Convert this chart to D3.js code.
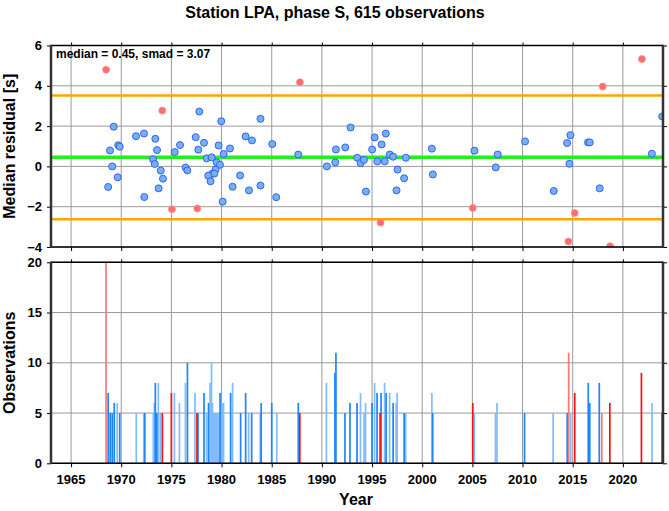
<!DOCTYPE html>
<html><head><meta charset="utf-8">
<script src="https://cdn.jsdelivr.net/npm/d3@7"></script>
<style>body{margin:0;background:#fff}svg{display:block}text{font-family:"Liberation Sans",Arial,Helvetica,sans-serif;font-weight:bold;fill:#000}</style>
</head><body><svg id="c" width="669" height="511"></svg>
<script>
// ---- data ----
const yearTicks = [1965,1970,1975,1980,1985,1990,1995,2000,2005,2010,2015,2020];
const residualTicks = [-4,-2,0,2,4,6];
const countTicks = [0,5,10,15,20];
const medianValue = 0.45, smadValue = 3.07;
const upperBand = 3.52, lowerBand = -2.62;

const blueYears = [1969.25,1968.88,1969.7,1969.85,1969.1,1969.65,1968.7,1971.47,1972.27,1972.3,1973.4,1973.57,1973.17,1973.34,1973.94,1974.16,1973.73,1975.33,1975.86,1976.42,1976.59,1977.42,1977.68,1977.78,1978.25,1978.52,1979.01,1979.51,1979.84,1979.71,1979.97,1980.21,1979.41,1979.07,1979.27,1978.67,1978.9,1980.11,1980.84,1981.1,1981.85,1982.4,1983.03,1982.73,1983.88,1983.88,1985.05,1985.45,1987.64,1990.5,1991.33,1991.4,1992.33,1992.86,1993.52,1993.86,1994.19,1994.39,1995.01,1995.26,1995.52,1995.95,1996.37,1996.27,1996.77,1997.1,1997.54,1997.44,1998.2,1998.37,2000.96,2001.06,2005.21,2007.53,2007.33,2010.25,2013.11,2014.44,2014.77,2014.67,2016.53,2016.7,2017.69,2022.89,2023.92];
const blueValues = [1.97,0.79,1.05,0.98,0.0,-0.54,-1.02,1.50,1.63,-1.52,1.37,0.81,0.35,0.12,-0.21,-0.61,-1.09,0.71,1.06,-0.06,-0.20,1.45,0.83,2.72,1.17,0.40,0.45,0.20,0.08,1.04,2.24,0.62,-0.16,-0.36,-0.36,-0.46,-0.74,-1.75,0.89,-1.01,-0.45,1.49,1.29,-1.19,2.36,-0.95,1.11,-1.53,0.59,0.0,0.20,0.84,0.94,1.93,0.43,0.17,0.32,-1.25,0.84,1.44,0.25,1.09,1.63,0.25,0.59,0.48,-0.16,-1.19,-0.59,0.43,0.88,-0.40,0.78,0.59,-0.05,1.24,-1.22,1.16,1.55,0.13,1.19,1.19,-1.09,0.63,2.48];
const redYears = [1968.49,1974.09,1975.06,1977.58,1987.81,1995.85,2005.04,2014.57,2015.2,2017.99,2018.72,2021.9];
const redValues = [4.80,2.77,-2.13,-2.09,4.18,-2.79,-2.06,-3.73,-2.31,3.96,-3.96,5.33];

const darkBlueBarYears = [1968.7,1968.9,1969.1,1969.3,1969.85,1972.35,1973.4,1973.55,1976.6,1977.65,1978.25,1978.7,1979.85,1980.9,1981.9,1982.4,1983.0,1983.95,1985.0,1987.65,1991.3,1991.4,1992.3,1992.8,1993.5,1995.0,1995.5,1995.9,1996.4,1997.1,1998.2,2001.05,2010.2,2014.45,2016.55,2016.7,2017.65,2023.9];
const darkBlueBarCounts = [7,5,5,6,5,5,8,5,10,5,7,6,7,7,5,7,5,6,6,6,9,11,5,6,6,6,7,7,7,6,5,5,5,5,8,6,8,5];
const lightBlueBarYears = [1969.6,1971.5,1972.25,1973.2,1973.3,1973.7,1973.9,1975.3,1975.8,1976.4,1977.35,1978.5,1978.85,1979.0,1979.1,1979.2,1979.3,1979.4,1979.5,1979.6,1979.7,1979.95,1980.1,1980.2,1981.1,1982.7,1983.85,1985.5,1990.45,1993.85,1994.2,1994.35,1995.25,1996.25,1996.75,1997.4,1997.5,1998.35,2000.96,2005.2,2007.3,2007.45,2013.05,2014.8,2022.9];
const lightBlueBarCounts = [6,5,5,5,6,8,5,7,6,8,7,5,8,10,6,5,5,5,5,5,5,6,6,6,8,5,5,5,8,7,5,6,8,8,7,6,7,5,7,5,5,6,5,5,6];
const redBarYears = [1974.1,1975.0,1977.55,1987.8,1995.8,2005.04,2015.2,2018.7,2021.85];
const redBarCounts = [5,7,5,5,5,6,7,6,9];
const lightRedBarYears = [1968.49,2014.6,2017.9];
const lightRedBarCounts = [20,11,5];

// ---- layout ----
const svg = d3.select("#c");
const L = 51, R = 663;
const x = d3.scaleLinear().domain([1963, 2024]).range([L, R]);
const yTop = d3.scaleLinear().domain([-4, 6]).range([247, 45.5]);
const yBot = d3.scaleLinear().domain([0, 20]).range([463.3, 262.3]);

svg.append("text").attr("x", 335).attr("y", 18).attr("text-anchor","middle")
  .style("font-size","16px").text("Station LPA, phase S, 615 observations");

function panel(y, yticks) {
  const g = svg.append("g");
  const [b, t] = y.range();
  g.selectAll(".gx").data(yearTicks).join("line")
    .attr("x1", d=>x(d)).attr("x2", d=>x(d)).attr("y1", t).attr("y2", b)
    .attr("stroke","#9a9a9a").attr("stroke-width",1);
  g.selectAll(".gy").data(yticks).join("line")
    .attr("x1", L).attr("x2", R).attr("y1", d=>y(d)).attr("y2", d=>y(d))
    .attr("stroke","#9a9a9a").attr("stroke-width",1);
  return g;
}
function frame(y, yticks) {
  const [b, t] = y.range();
  const g = svg.append("g");
  g.append("g").attr("transform",`translate(${L},0)`)
    .call(d3.axisLeft(y).tickValues(yticks).tickSize(4).tickPadding(5).tickFormat(d3.format("d")))
    .call(a=>{a.select(".domain").remove(); a.selectAll("text").style("font-size","13px").style("font-family","Liberation Sans, Arial, sans-serif").style("font-weight","bold");});
  g.append("g").attr("transform",`translate(${R},0)`)
    .call(d3.axisRight(y).tickValues(yticks).tickSize(4).tickFormat(""))
    .call(a=>a.select(".domain").remove());
  g.append("g").attr("transform",`translate(0,${t})`)
    .call(d3.axisTop(x).tickValues(yearTicks).tickSize(3).tickFormat(""))
    .call(a=>a.select(".domain").remove());
  g.append("g").attr("transform",`translate(0,${b})`)
    .call(d3.axisBottom(x).tickValues(yearTicks).tickSize(4).tickFormat(""))
    .call(a=>a.select(".domain").remove());
  g.append("line").attr("x1",L).attr("x2",R).attr("y1",t).attr("y2",t).attr("stroke","#000").attr("stroke-width",1.5);
  g.append("line").attr("x1",L).attr("x2",R).attr("y1",b).attr("y2",b).attr("stroke","#000").attr("stroke-width",1.5);
  g.append("line").attr("x1",L).attr("x2",L).attr("y1",t-0.75).attr("y2",b+0.75).attr("stroke","#333").attr("stroke-width",2.5);
  g.append("line").attr("x1",R).attr("x2",R).attr("y1",t-0.75).attr("y2",b+0.75).attr("stroke","#333").attr("stroke-width",2.5);
  return g;
}

// top panel
panel(yTop, residualTicks);
svg.append("clipPath").attr("id","ct").append("rect")
  .attr("x",L).attr("y",yTop(6)).attr("width",R-L).attr("height",yTop(-4)-yTop(6));
const gT = svg.append("g").attr("clip-path","url(#ct)");
[upperBand, lowerBand].forEach(v=>gT.append("line").attr("x1",L).attr("x2",R)
  .attr("y1",yTop(v)).attr("y2",yTop(v)).attr("stroke","#ffa500").attr("stroke-width",2.5));
gT.append("line").attr("x1",L).attr("x2",R).attr("y1",yTop(medianValue)).attr("y2",yTop(medianValue))
  .attr("stroke","#22ee22").attr("stroke-width",3.5);
gT.selectAll(".bp").data(blueYears.map((d,i)=>[d,blueValues[i]])).join("circle")
  .attr("cx",d=>x(d[0])).attr("cy",d=>yTop(d[1])).attr("r",3.5)
  .attr("fill","#78aef5").attr("stroke","#2f64f0").attr("stroke-width",1);
gT.selectAll(".rp").data(redYears.map((d,i)=>[d,redValues[i]])).join("circle")
  .attr("cx",d=>x(d[0])).attr("cy",d=>yTop(d[1])).attr("r",3.5)
  .attr("fill","#ff6e6e").attr("stroke","#ff9090").attr("stroke-width",0.8);
svg.append("text").attr("x",56).attr("y",58).style("font-size","12px")
  .text(`median = ${medianValue.toFixed(2)}, smad = ${smadValue.toFixed(2)}`);
frame(yTop, residualTicks);

// bottom panel
panel(yBot, countTicks);
const gB = svg.append("g");
function bars(years, counts, color) {
  gB.selectAll(null).data(years.map((d,i)=>[d,counts[i]])).join("rect")
    .attr("x",d=>x(d[0])-0.85).attr("width",1.7)
    .attr("y",d=>yBot(d[1])).attr("height",d=>yBot(0)-yBot(d[1]))
    .attr("fill",color);
}
bars(lightBlueBarYears, lightBlueBarCounts, "#80bcff");
bars(darkBlueBarYears, darkBlueBarCounts, "#1e86ff");
bars(lightRedBarYears, lightRedBarCounts, "#ff7878");
bars(redBarYears, redBarCounts, "#ff1010");
frame(yBot, countTicks);

// x labels
svg.append("g").selectAll("text").data(yearTicks).join("text")
  .attr("x",d=>x(d)).attr("y",484).attr("text-anchor","middle").style("font-size","13px").text(d=>d);

svg.append("text").attr("x",356).attr("y",505).attr("text-anchor","middle").style("font-size","16px").text("Year");
svg.append("text").attr("transform",`translate(15,${yTop(1)}) rotate(-90)`).attr("text-anchor","middle")
  .style("font-size","16px").text("Median residual [s]");
svg.append("text").attr("transform",`translate(15,${yBot(10)}) rotate(-90)`).attr("text-anchor","middle")
  .style("font-size","16px").text("Observations");
</script></body></html>
